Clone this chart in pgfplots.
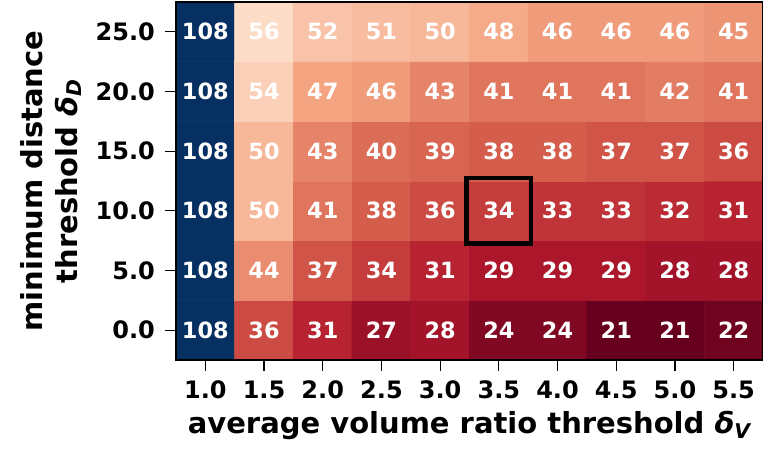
\documentclass[border=0pt]{standalone}
\usepackage{fontspec}
\setmainfont{DejaVu Sans}
\usepackage{pgfplots}
\usepackage{pgfplotstable}
\pgfplotsset{compat=1.18}
\pgfplotstableread{
x y v
0 0 108
1 0 36
2 0 31
3 0 27
4 0 28
5 0 24
6 0 24
7 0 21
8 0 21
9 0 22
0 1 108
1 1 44
2 1 37
3 1 34
4 1 31
5 1 29
6 1 29
7 1 29
8 1 28
9 1 28
0 2 108
1 2 50
2 2 41
3 2 38
4 2 36
5 2 34
6 2 33
7 2 33
8 2 32
9 2 31
0 3 108
1 3 50
2 3 43
3 3 40
4 3 39
5 3 38
6 3 38
7 3 37
8 3 37
9 3 36
0 4 108
1 4 54
2 4 47
3 4 46
4 4 43
5 4 41
6 4 41
7 4 41
8 4 42
9 4 41
0 5 108
1 5 56
2 5 52
3 5 51
4 5 50
5 5 48
6 5 46
7 5 46
8 5 46
9 5 45
}\datatable
\pgfplotsset{colormap={RdBu}{rgb255=(103,0,31) rgb255=(178,24,43) rgb255=(214,96,77) rgb255=(244,165,130) rgb255=(253,219,199) rgb255=(247,247,247) rgb255=(209,229,240) rgb255=(146,197,222) rgb255=(67,147,195) rgb255=(33,102,172) rgb255=(5,48,97)}}
\begin{document}
\begin{tikzpicture}
\begin{axis}[
  scale only axis, width=293.5pt, height=179pt,
  xmin=-0.5, xmax=9.5, ymin=-0.5, ymax=5.5,
  enlargelimits=false, axis on top,
  xtick={0,...,9}, xticklabels={1.0,1.5,2.0,2.5,3.0,3.5,4.0,4.5,5.0,5.5},
  ytick={0,...,5}, yticklabels={0.0,5.0,10.0,15.0,20.0,25.0},
  tick align=outside, tick pos=left, major tick length=5.5pt,
  tick style={black, line width=0.6pt},
  axis line style={black, line width=0.6pt},
  ticklabel style={font=\bfseries\fontsize{12}{14}\selectfont},
  xticklabel style={yshift=-1.5pt},
  yticklabel style={xshift=-1.5pt},
  label style={font=\bfseries\fontsize{14.5}{17.5}\selectfont},
  xlabel={average volume ratio threshold {\itshape δ\textsubscript{V}}},
  ylabel={minimum distance\\threshold {\itshape δ\textsubscript{D}}},
  ylabel style={align=center},
  xlabel style={yshift=1pt},
  colormap name=RdBu, point meta min=21, point meta max=108,
]
\addplot[matrix plot*, mesh/cols=10, point meta=explicit] table[x=x, y=y, meta=v]{\datatable};
\addplot[draw=none, mark=none, nodes near coords, point meta=explicit symbolic,
  every node near coord/.append style={text=white, anchor=center, font=\bfseries\fontsize{11.2}{13}\selectfont}]
  table[x=x, y=y, meta=v]{\datatable};
\addplot[black, line width=2.2pt, line join=miter, mark=none] coordinates {(4.45,1.45) (5.55,1.45) (5.55,2.55) (4.45,2.55) (4.45,1.45)} -- cycle;
\coordinate (bl) at (rel axis cs:0,0);
\coordinate (tr) at (rel axis cs:1,1);
\end{axis}
\pgfresetboundingbox
\path ([xshift=-88pt, yshift=-47.5pt]bl) rectangle ([yshift=1pt]tr);
\end{tikzpicture}
\end{document}
